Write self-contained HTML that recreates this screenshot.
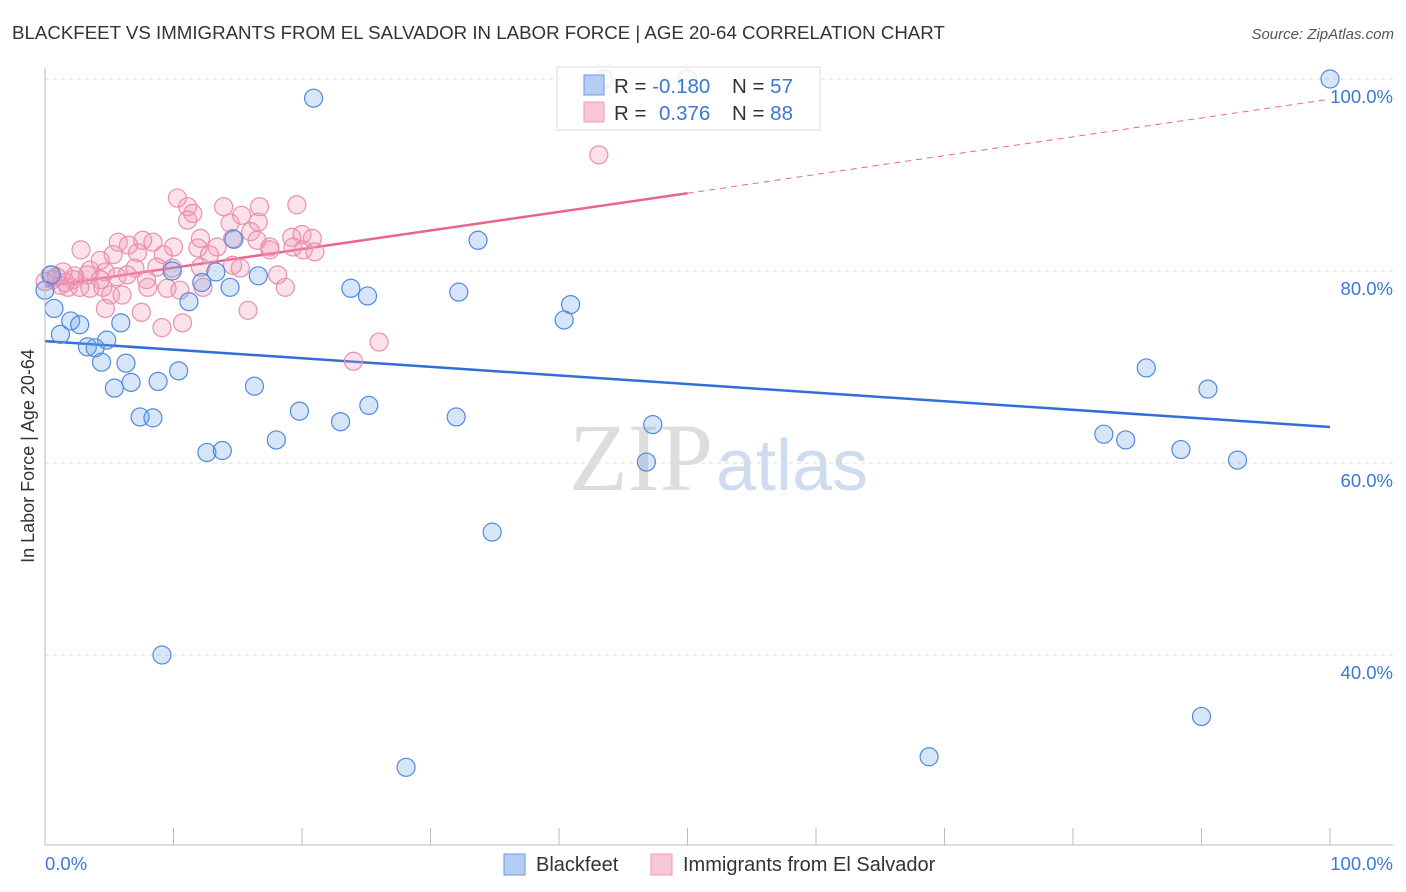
<!DOCTYPE html>
<html><head><meta charset="utf-8"><style>
body{margin:0;background:#fff;font-family:"Liberation Sans",sans-serif;}
#wrap{position:relative;width:1406px;height:892px;overflow:hidden;}
</style></head><body>
<div id="wrap">
<svg id="svg" width="1406" height="892" xmlns="http://www.w3.org/2000/svg">
<text x="12" y="39" font-size="18.7" fill="#333">BLACKFEET VS IMMIGRANTS FROM EL SALVADOR IN LABOR FORCE | AGE 20-64 CORRELATION CHART</text>
<text x="1394" y="39" font-size="15" fill="#555" font-style="italic" text-anchor="end">Source: ZipAtlas.com</text>
<text x="713" y="490" font-size="96" fill="#ddd" text-anchor="end" font-family="Liberation Serif,serif">ZIP</text>
<text x="716" y="490" font-size="72" fill="#cfdcf0">atlas</text>
<text transform="translate(34,456) rotate(-90)" font-size="18" fill="#333" text-anchor="middle">In Labor Force | Age 20-64</text>
<g id="grid"></g><g id="ticks"></g><g id="lines"></g><g id="pts"></g>
<line x1="45" y1="68" x2="45" y2="845" stroke="#bbb"/>
<line x1="45" y1="845" x2="1393" y2="845" stroke="#bbb"/>
<text x="45" y="870" font-size="18.5" fill="#3a78d4">0.0%</text>
<text x="1393" y="870" font-size="18.5" fill="#3a78d4" text-anchor="end">100.0%</text>
<g>
<rect x="557" y="67" width="263" height="63" fill="rgba(255,255,255,0.85)" stroke="#ddd"/>
<rect x="584" y="75" width="20" height="20" fill="#b3cdf5" stroke="#6c9be0"/>
<rect x="584" y="102" width="20" height="20" fill="#f9c6d5" stroke="#ee9ab5"/>
<text x="614" y="93" font-size="20.5" fill="#333">R = <tspan fill="#3a78d4">-0.180</tspan><tspan x="732">N = </tspan><tspan fill="#3a78d4">57</tspan></text>
<text x="614" y="120" font-size="20.5" fill="#333">R = <tspan x="659" fill="#3a78d4">0.376</tspan><tspan x="732">N = </tspan><tspan fill="#3a78d4">88</tspan></text>
</g>
<g>
<rect x="504" y="854" width="21" height="21" fill="#b3cdf5" stroke="#6c9be0"/>
<text x="536" y="871" font-size="20" fill="#333">Blackfeet</text>
<rect x="651" y="854" width="21" height="21" fill="#f9c6d5" stroke="#ee9ab5"/>
<text x="683" y="871" font-size="20" fill="#333">Immigrants from El Salvador</text>
</g>
</svg>
</div>
<script>
const yTicks=[40,60,80,100];
const yTickLabels=["40.0%","60.0%","80.0%","100.0%"];
const xTicks=[0,10,20,30,40,50,60,70,80,90,100];
const blueX=[20.9,43.5,50,100,33.7,14.7,0.5,0,9.9,13.3,16.6,12.2,14.4,23.8,25.1,32.2,40.9,11.2,0.7,40.4,2.0,2.7,5.9,1.2,4.8,3.3,3.9,4.4,6.3,10.4,6.7,8.8,5.4,16.3,85.7,90.5,7.4,8.4,19.8,25.2,23.0,32.0,47.3,18.0,12.6,13.8,82.4,84.1,88.4,46.8,92.8,34.8,9.1,90.0,68.8,28.1];
const blueY=[98.0,100,100,100,83.2,83.3,79.6,78,80,79.9,79.5,78.8,78.3,78.2,77.4,77.8,76.5,76.8,76.1,74.9,74.8,74.4,74.6,73.4,72.8,72.1,72.0,70.5,70.4,69.6,68.4,68.5,67.8,68.0,69.9,67.7,64.8,64.7,65.4,66.0,64.3,64.8,64.0,62.4,61.1,61.3,63.0,62.4,61.4,60.1,60.3,52.8,40.0,33.6,29.4,28.3];
const pinkX=[10.3,11.1,11.5,11.1,13.9,15.3,16.7,19.6,14.4,16.6,16.0,16.5,12.1,11.9,13.4,12.8,14.6,17.5,17.5,19.2,20.0,20.8,19.3,20.1,21.0,2.8,5.7,6.5,7.6,8.4,10.0,4.3,5.3,7.2,9.2,8.7,9.9,12.1,14.6,15.2,18.1,18.7,3.5,4.7,5.6,6.4,7.0,7.9,8.0,9.5,10.5,12.3,2.2,2.7,3.5,4.5,5.1,6.0,4.7,7.5,9.1,10.7,15.8,0.9,0.4,0.6,1.4,43.1,24.0,26.0,0,1.2,1.8,3.3,4.3,1.6,2.3];
const pinkY=[87.6,86.7,86.0,85.3,86.7,85.8,86.7,86.9,85.0,85.1,84.1,83.2,83.4,82.4,82.5,81.7,83.4,82.5,82.2,83.5,83.8,83.4,82.5,82.2,82.0,82.2,83.0,82.7,83.2,83.0,82.5,81.1,81.7,81.9,81.7,80.4,80.3,80.4,80.6,80.3,79.6,78.3,80.1,79.9,79.4,79.6,80.3,79.1,78.3,78.2,78.0,78.3,79.1,78.3,78.2,78.3,77.5,77.5,76.1,75.7,74.1,74.6,75.9,79.4,79.6,79.1,79.9,92.1,70.6,72.6,78.9,78.5,78.3,79.6,79.1,78.8,79.5];
const blueTrend=[72.7,63.75];
const pinkTrend=[78.4,88.1,97.9];
const NS="http://www.w3.org/2000/svg";
const X=v=>45+v*12.85, Y=v=>79+(100-v)*9.6;
function mk(p,t,a){const e=document.createElementNS(NS,t);for(const k in a)e.setAttribute(k,a[k]);document.getElementById(p).appendChild(e);return e;}
yTicks.forEach((t,i)=>{
 const l=mk('grid','line',{x1:45,x2:1393,y1:Y(t),y2:Y(t),stroke:'#ddd','stroke-dasharray':'4,4'});
 
 
 const tx=mk('grid','text',{x:1393,y:Y(t)+24,'font-size':18.5,fill:'#3a78d4','text-anchor':'end'});
 tx.textContent=yTickLabels[i];
 
 
});
xTicks.forEach(t=>{
 const l=mk('ticks','line',{x1:X(t),x2:X(t),y1:828,y2:845,stroke:'#bbb'});
 
 
});
const bl=mk('lines','line',{x1:X(0),y1:Y(blueTrend[0]),x2:X(100),y2:Y(blueTrend[1]),stroke:'#2f6fd6','stroke-width':2.5});


const pl=mk('lines','line',{x1:X(0),y1:Y(pinkTrend[0]),x2:X(50),y2:Y(pinkTrend[1]),stroke:'#e8658f','stroke-width':2.5});


const pd=mk('lines','line',{x1:X(50),y1:Y(pinkTrend[1]),x2:X(100),y2:Y(pinkTrend[2]),stroke:'#e8658f','stroke-width':1,'stroke-dasharray':'6,5'});


pinkX.forEach((x,i)=>{
 const c=mk('pts','circle',{cx:X(x),cy:Y(pinkY[i]),r:9,fill:'rgba(242,150,180,0.28)',stroke:'#ea8fae','stroke-width':1.2});
 
 
});
blueX.forEach((x,i)=>{
 const c=mk('pts','circle',{cx:X(x),cy:Y(blueY[i]),r:9,fill:'rgba(110,160,230,0.28)',stroke:'#4f8ade','stroke-width':1.2});
 
 
});
</script>
</body></html>
